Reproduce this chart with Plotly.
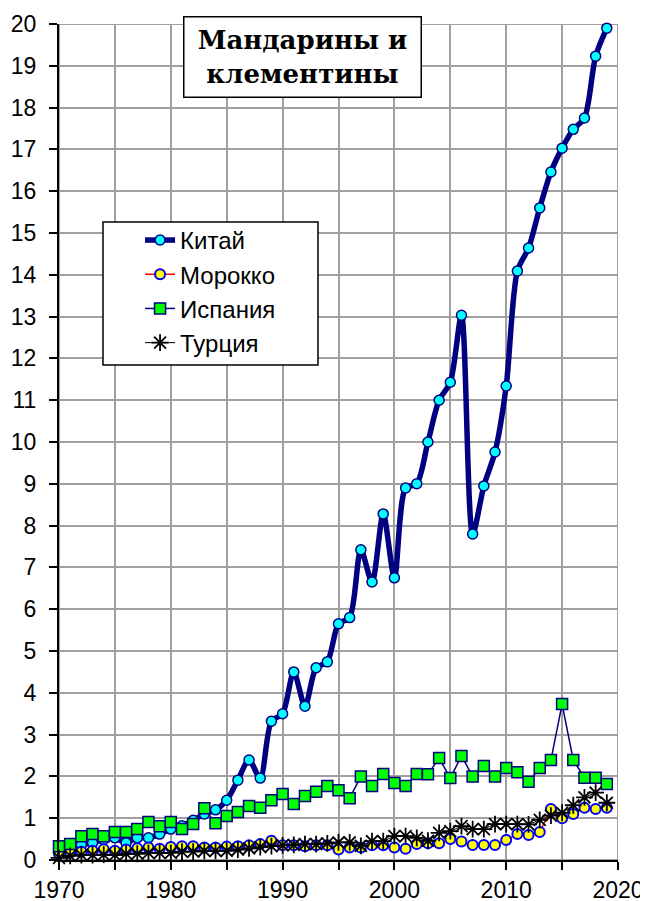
import plotly.graph_objects as go

years = list(range(1970, 2020))

china = [0.25, 0.3, 0.37, 0.41, 0.49, 0.53, 0.41, 0.53, 0.53, 0.62,
         0.74, 0.82, 0.95, 1.1, 1.2, 1.43, 1.91, 2.39, 1.96, 3.32,
         3.5, 4.5, 3.68, 4.6, 4.74, 5.65, 5.8, 7.42, 6.65, 8.28,
         6.75, 8.9, 9.0, 10.0, 11.0, 11.43, 13.03, 7.8, 8.95, 9.76,
         11.34, 14.09, 14.64, 15.6, 16.46, 17.03, 17.48, 17.75, 19.23, 19.9]

morocco = [0.15, 0.18, 0.2, 0.22, 0.26, 0.22, 0.25, 0.28, 0.3, 0.27,
           0.31, 0.33, 0.33, 0.3, 0.3, 0.32, 0.33, 0.35, 0.38, 0.46,
           0.35, 0.35, 0.33, 0.35, 0.35, 0.25, 0.3, 0.3, 0.35, 0.35,
           0.3, 0.27, 0.38, 0.4, 0.4, 0.5, 0.44, 0.36, 0.36, 0.36,
           0.48, 0.62, 0.6, 0.67, 1.22, 1.0, 1.1, 1.25, 1.22, 1.25]

spain = [0.33, 0.38, 0.57, 0.62, 0.57, 0.67, 0.67, 0.74, 0.91, 0.81,
         0.91, 0.74, 0.86, 1.24, 0.88, 1.05, 1.15, 1.29, 1.25, 1.43,
         1.58, 1.34, 1.53, 1.63, 1.77, 1.67, 1.48, 2.0, 1.77, 2.06,
         1.84, 1.77, 2.06, 2.05, 2.44, 1.96, 2.49, 2.0, 2.25, 2.0,
         2.2, 2.1, 1.87, 2.2, 2.39, 3.73, 2.39, 1.97, 1.97, 1.82]

turkey = [0.05, 0.1, 0.12, 0.12, 0.13, 0.12, 0.15, 0.15, 0.17, 0.17,
          0.17, 0.2, 0.2, 0.22, 0.22, 0.22, 0.25, 0.28, 0.31, 0.33,
          0.35, 0.36, 0.38, 0.38, 0.4, 0.42, 0.42, 0.34, 0.45, 0.45,
          0.57, 0.57, 0.53, 0.46, 0.65, 0.69, 0.81, 0.74, 0.74, 0.86,
          0.86, 0.86, 0.85, 0.96, 1.06, 1.13, 1.31, 1.5, 1.61, 1.37]

x_ticks = list(range(1970, 2021, 5))
x_labels = [str(v) if v % 10 == 0 else "" for v in x_ticks]
y_ticks = list(range(0, 21))

fig = go.Figure()
fig.add_trace(go.Scatter(
    x=years, y=china, name="Китай", mode="lines+markers", legendgroup="a",
    line=dict(color="#000080", width=5.5, shape="spline", smoothing=0.8),
    marker=dict(symbol="circle", size=10, color="#00FFFF",
                line=dict(color="#000080", width=1.5)),
    cliponaxis=False,
))
fig.add_trace(go.Scatter(
    x=years, y=morocco, name="Морокко", mode="lines+markers", legendgroup="b",
    line=dict(color="#FF0000", width=1.5),
    marker=dict(symbol="circle", size=10, color="#FFFF00",
                line=dict(color="#0000FF", width=2)),
    cliponaxis=False,
))
fig.add_trace(go.Scatter(
    x=years, y=spain, name="Испания", mode="lines+markers", legendgroup="c",
    line=dict(color="#000080", width=1.5),
    marker=dict(symbol="square", size=11, color="#00FF00",
                line=dict(color="#000080", width=1.5)),
    cliponaxis=False,
))
fig.add_trace(go.Scatter(
    x=years, y=turkey, name="Турция", mode="lines+markers", legendgroup="d",
    line=dict(color="#000000", width=1),
    marker=dict(symbol="asterisk-open", size=14,
                line=dict(color="#000000", width=1.8)),
    cliponaxis=False,
))

# grey frame on top and right, like the gridlines
fig.add_shape(type="rect", xref="x", yref="y", x0=1970, x1=2020, y0=0, y1=20,
              line=dict(color="#a0a0a0", width=2), layer="below")

# legend frame (legend itself is drawn borderless inside it)
fig.add_shape(type="rect", xref="paper", yref="paper",
              x0=0.0787, x1=0.4633, y0=0.5921, y1=0.7632,
              line=dict(color="black", width=1.5), fillcolor="white",
              layer="above")

fig.add_annotation(
    text="<b>Мандарины и<br>клементины</b>",
    xref="paper", yref="paper", x=0.435, y=0.961,
    xanchor="center", yanchor="middle", showarrow=False,
    font=dict(family="DejaVu Serif", size=26, color="black"),
    width=226, height=69, align="center",
    bgcolor="white", bordercolor="black", borderwidth=1.5, borderpad=5,
)

# page body adds an 8px offset, so the figure is sized 8px smaller
fig.update_layout(
    width=640, height=893,
    margin=dict(l=51, r=30, t=16, b=41),
    paper_bgcolor="white",
    plot_bgcolor="white",
    font=dict(family="Liberation Sans, Arial", size=23, color="black"),
    showlegend=True,
    legend=dict(
        x=0.145, y=0.768, xanchor="left", yanchor="top",
        bgcolor="rgba(0,0,0,0)", borderwidth=0,
        font=dict(size=24), traceorder="grouped", tracegroupgap=0,
    ),
    xaxis=dict(
        range=[1970, 2020], tickvals=x_ticks, ticktext=x_labels,
        showgrid=True, gridcolor="#a0a0a0", gridwidth=2,
        showline=True, linecolor="black", linewidth=2,
        ticks="outside", ticklen=8, tickwidth=2, tickcolor="black",
        zeroline=False, automargin=False,
    ),
    yaxis=dict(
        range=[0, 20], tickvals=y_ticks,
        showgrid=True, gridcolor="#a0a0a0", gridwidth=2,
        showline=True, linecolor="black", linewidth=2,
        ticks="outside", ticklen=8, tickwidth=2, tickcolor="black",
        ticklabelstandoff=8, zeroline=False, automargin=False,
    ),
)

fig.write_html("out.html")
